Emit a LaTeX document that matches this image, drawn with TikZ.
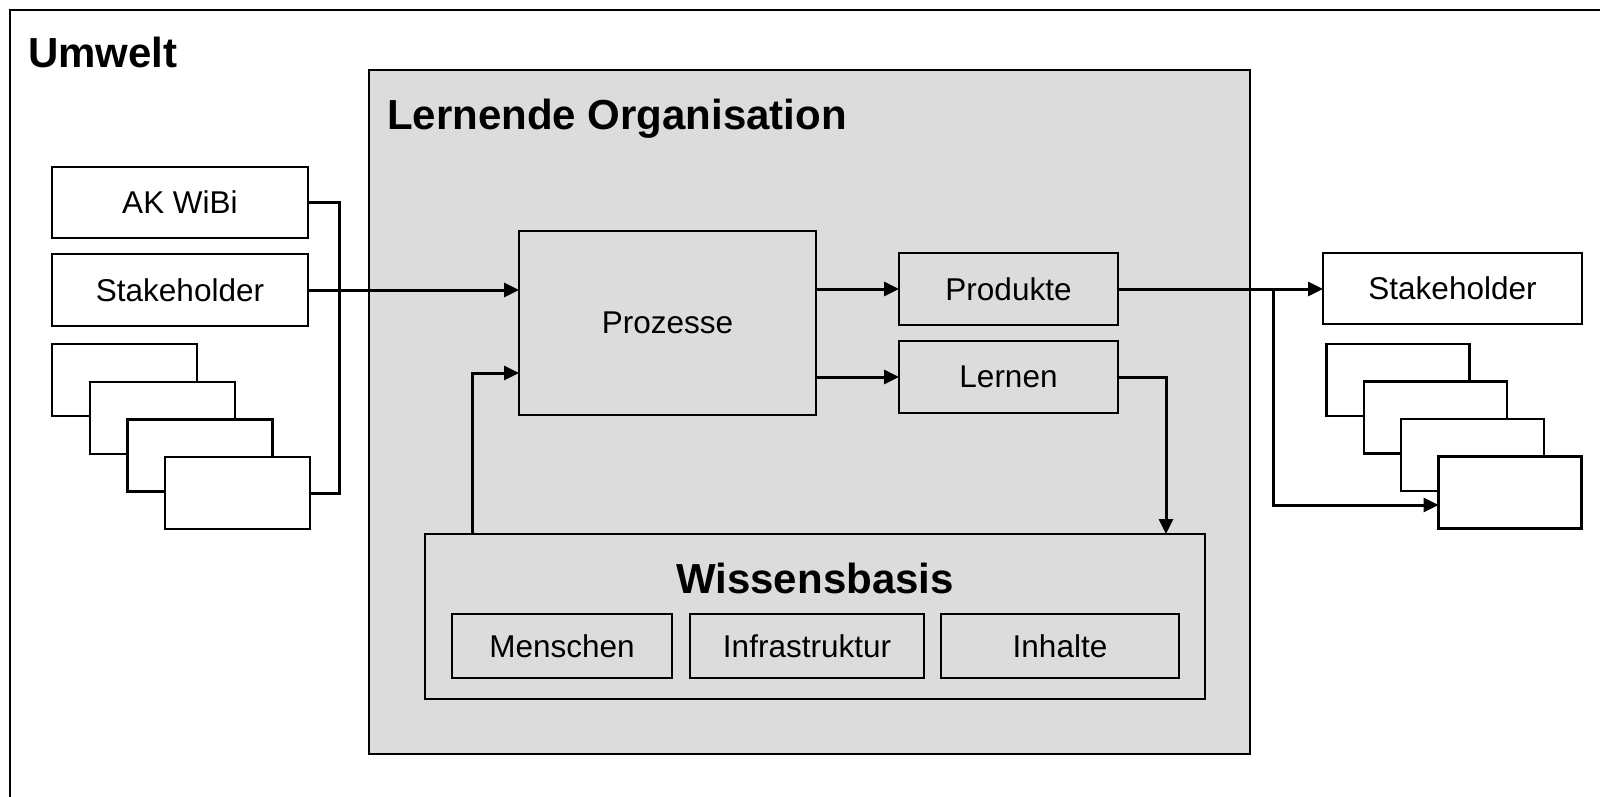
\documentclass[tikz,border=0pt]{standalone}
\usepackage{fontspec}
\setmainfont{Liberation Sans}
\usetikzlibrary{arrows.meta,calc}
\definecolor{bggray}{RGB}{220,220,220}
\tikzset{
  box/.style={draw=black, line width=2.2pt, fill=white, inner sep=0pt, outer sep=0pt,
    font=\fontsize{31.5}{38}\selectfont},
  graybox/.style={box, fill=bggray},
  headline/.style={inner sep=0pt, outer sep=0pt, font=\fontsize{42}{50}\selectfont\bfseries},
  conn/.style={line width=3pt, draw=black},
  arr/.style={conn, -{Triangle[length=15pt,width=14pt]}},
}
\begin{document}
\begin{tikzpicture}[x=1pt,y=-1pt]
\useasboundingbox (0,0) rectangle (1600,797);
\clip (0,0) rectangle (1600,797);
\fill[white] (0,0) rectangle (1600,797);
% outer frame (Umwelt)
\draw[line width=2pt] (10,10) rectangle (1620,820);
\node[headline, anchor=base west] (umwelt) at (28,68) {Umwelt};
% Lernende Organisation
\node[graybox, minimum width=881pt, minimum height=684pt] (lo) at (809.5,412) {};
\node[headline, anchor=base west] (lotitle) at (387,129) {Lernende Organisation};
% left side boxes
\node[box, minimum width=256pt, minimum height=71pt] (ak) at (180,202.5) {AK WiBi};
\node[box, minimum width=256pt, minimum height=72pt] (shl) at (180,290) {Stakeholder};
\node[box, minimum width=145pt, minimum height=72pt] (lb1) at (124.5,380) {};
\node[box, minimum width=145pt, minimum height=72pt] (lb2) at (162.2,417.7) {};
\node[box, minimum width=145pt, minimum height=72pt] (lb3) at (199.9,455.4) {};
\node[box, minimum width=145pt, minimum height=72pt] (lb4) at (237.6,493.1) {};
% inner boxes
\node[graybox, minimum width=297pt, minimum height=184pt] (pro) at (667.5,323) {Prozesse};
\node[graybox, minimum width=219pt, minimum height=72pt] (prod) at (1008.5,289) {Produkte};
\node[graybox, minimum width=219pt, minimum height=72pt] (lern) at (1008.5,377) {Lernen};
\node[graybox, minimum width=780pt, minimum height=165pt] (wb) at (815,616.5) {};
\node[headline, anchor=base] (wbtitle) at (815,593) {Wissensbasis};
\node[graybox, minimum width=220pt, minimum height=64pt] (men) at (562,646) {Menschen};
\node[graybox, minimum width=234pt, minimum height=64pt] (inf) at (807,646) {Infrastruktur};
\node[graybox, minimum width=238pt, minimum height=64pt] (inh) at (1060,646) {Inhalte};
% right side boxes
\node[box, minimum width=259pt, minimum height=71pt] (rst) at (1452.5,288.5) {Stakeholder};
\node[box, minimum width=143pt, minimum height=72pt] (rb1) at (1398,380) {};
\node[box, minimum width=143pt, minimum height=72pt] (rb2) at (1435.3,417.5) {};
\node[box, minimum width=143pt, minimum height=72pt] (rb3) at (1472.6,455) {};
\node[box, minimum width=143pt, minimum height=72pt] (rb4) at (1510,492.5) {};
% helper coordinates
\coordinate (brk) at (339,0);
\coordinate (fbx) at (472,373);
\coordinate (lx) at (1166,0);
\coordinate (brx) at (1273,505);
% connectors
\draw[conn] (ak.east) -| (brk |- lb4.east) -- (lb4.east);
\draw[arr] (shl.east) -- (shl.east -| pro.west);
\draw[arr] (fbx |- wb.north) |- (pro.west |- fbx);
\draw[arr] (pro.east |- prod.west) -- (prod.west);
\draw[arr] (pro.east |- lern.west) -- (lern.west);
\draw[arr] (lern.east) -| (lx |- wb.north);
\draw[arr] (prod.east) -- (prod.east -| rst.west);
\draw[arr] (brx |- prod.east) -- (brx) -- (brx -| rb4.west);
\end{tikzpicture}
\end{document}
